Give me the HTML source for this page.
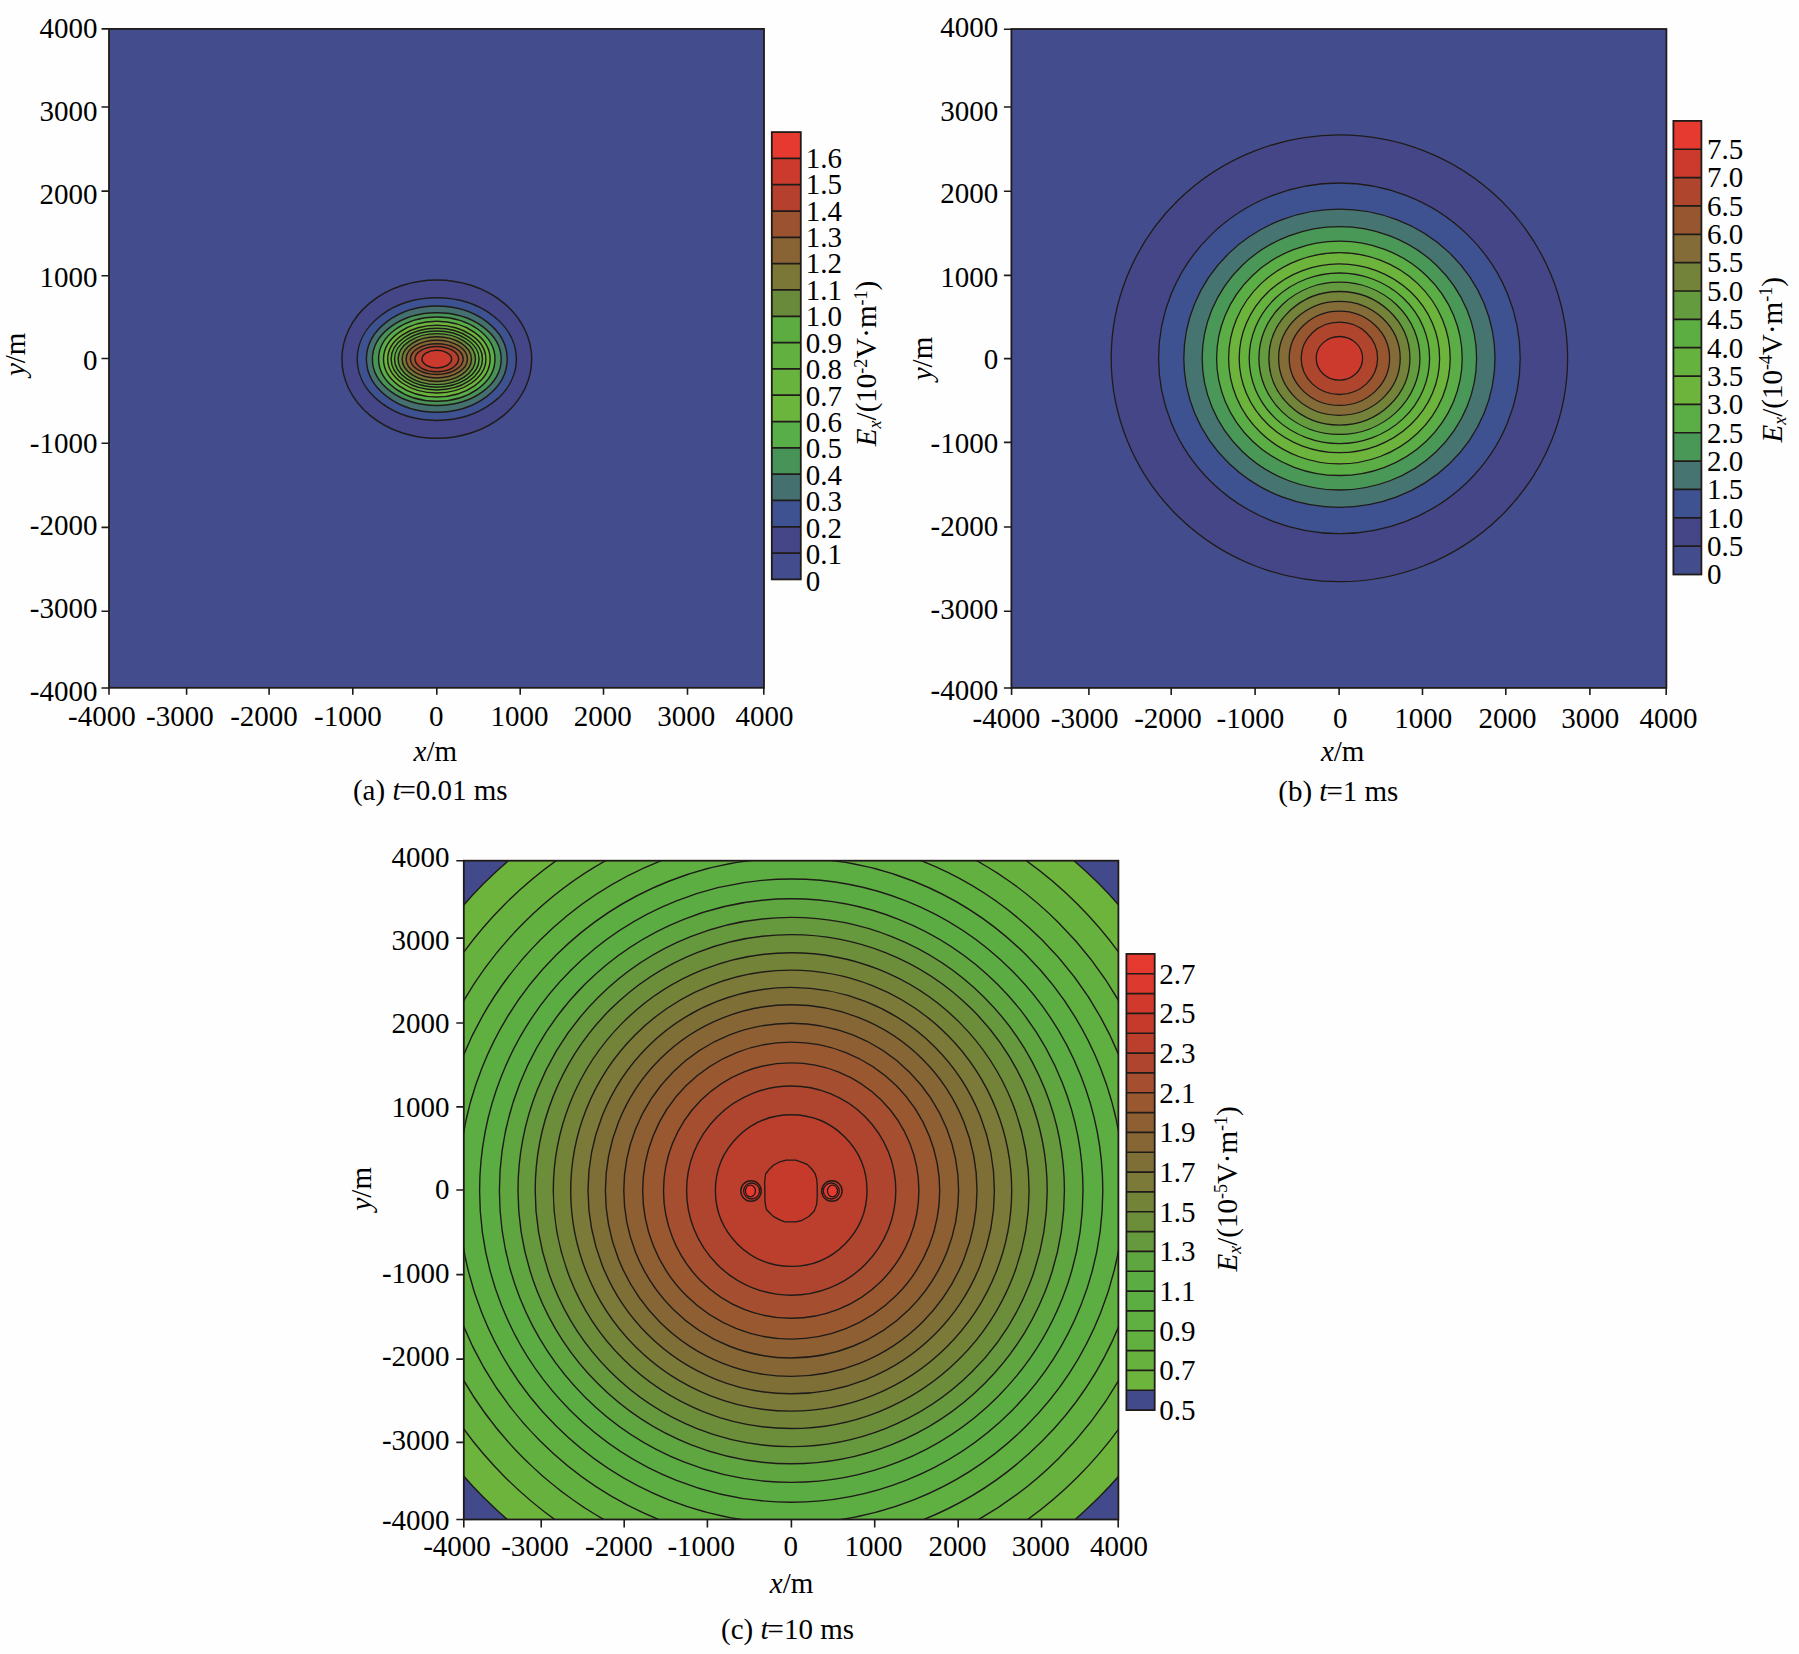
<!DOCTYPE html><html><head><meta charset="utf-8"><title>Ex contour maps</title><style>html,body{margin:0;padding:0;background:#fff;}svg{display:block;}</style></head><body>
<svg width="1799" height="1654" viewBox="0 0 1799 1654">
<rect width="1799" height="1654" fill="#fefefe"/>
<defs>
<clipPath id="clipa"><rect x="109" y="28.9" width="655" height="658.9"/></clipPath>
<clipPath id="clipb"><rect x="1011.4" y="29" width="655" height="658.9"/></clipPath>
<clipPath id="clipc"><rect x="463.8" y="860.7" width="654.6" height="658.8"/></clipPath>
</defs>
<g clip-path="url(#clipa)">
<rect x="109" y="28.9" width="655" height="658.9" fill="#434c8d"/>
<ellipse cx="436.8" cy="359.1" rx="94.9" ry="79.2" fill="#454688" stroke="#1f1b18" stroke-width="1.45"/>
<ellipse cx="436.8" cy="359.1" rx="79.6" ry="61.3" fill="#3e5190" stroke="#1f1b18" stroke-width="1.45"/>
<ellipse cx="436.8" cy="359.1" rx="70.4" ry="53.1" fill="#447070" stroke="#1f1b18" stroke-width="1.45"/>
<ellipse cx="436.8" cy="359.1" rx="64.4" ry="46.4" fill="#489458" stroke="#1f1b18" stroke-width="1.45"/>
<ellipse cx="436.8" cy="359.1" rx="58.2" ry="42.2" fill="#58ae48" stroke="#1f1b18" stroke-width="1.45"/>
<ellipse cx="436.8" cy="359.1" rx="53.3" ry="37.9" fill="#6cb53c" stroke="#1f1b18" stroke-width="1.45"/>
<ellipse cx="436.8" cy="359.1" rx="49.1" ry="33.8" fill="#68b33d" stroke="#1f1b18" stroke-width="1.45"/>
<ellipse cx="436.8" cy="359.1" rx="45.7" ry="30.8" fill="#62b040" stroke="#1f1b18" stroke-width="1.45"/>
<ellipse cx="436.8" cy="359.1" rx="42.3" ry="28.1" fill="#5cac42" stroke="#1f1b18" stroke-width="1.45"/>
<ellipse cx="436.8" cy="359.1" rx="38.7" ry="25.5" fill="#6a8a3b" stroke="#1f1b18" stroke-width="1.45"/>
<ellipse cx="436.8" cy="359.1" rx="34.7" ry="22.3" fill="#7a7737" stroke="#1f1b18" stroke-width="1.45"/>
<ellipse cx="436.8" cy="359.1" rx="30.7" ry="18.9" fill="#886334" stroke="#1f1b18" stroke-width="1.45"/>
<ellipse cx="436.8" cy="359.1" rx="26.4" ry="15.4" fill="#9a5230" stroke="#1f1b18" stroke-width="1.45"/>
<ellipse cx="436.8" cy="359.1" rx="21.8" ry="12.6" fill="#b4402d" stroke="#1f1b18" stroke-width="1.45"/>
<ellipse cx="436.8" cy="359.1" rx="14.8" ry="8.8" fill="#cc3a2d" stroke="#1f1b18" stroke-width="1.45"/>
</g>
<g clip-path="url(#clipb)">
<rect x="1011.4" y="29" width="655" height="658.9" fill="#434d8d"/>
<ellipse cx="1339.4" cy="358.3" rx="228.2" ry="223.4" fill="#454688" stroke="#1f1b18" stroke-width="1.3"/>
<ellipse cx="1339.4" cy="358.3" rx="180.8" ry="175.3" fill="#3e5190" stroke="#1f1b18" stroke-width="1.3"/>
<ellipse cx="1339.4" cy="358.3" rx="155.6" ry="149.1" fill="#467470" stroke="#1f1b18" stroke-width="1.3"/>
<ellipse cx="1339.4" cy="358.3" rx="137.2" ry="131.7" fill="#4a9858" stroke="#1f1b18" stroke-width="1.3"/>
<ellipse cx="1339.4" cy="358.3" rx="122.8" ry="117.2" fill="#5bae45" stroke="#1f1b18" stroke-width="1.3"/>
<ellipse cx="1339.4" cy="358.3" rx="110.8" ry="105.6" fill="#6cb43c" stroke="#1f1b18" stroke-width="1.3"/>
<ellipse cx="1339.4" cy="358.3" rx="100.2" ry="94.4" fill="#66b23e" stroke="#1f1b18" stroke-width="1.3"/>
<ellipse cx="1339.4" cy="358.3" rx="90.2" ry="85.3" fill="#5cae42" stroke="#1f1b18" stroke-width="1.3"/>
<ellipse cx="1339.4" cy="358.3" rx="80.5" ry="76.1" fill="#659b3f" stroke="#1f1b18" stroke-width="1.3"/>
<ellipse cx="1339.4" cy="358.3" rx="70.5" ry="66.8" fill="#738339" stroke="#1f1b18" stroke-width="1.3"/>
<ellipse cx="1339.4" cy="358.3" rx="60.8" ry="57" fill="#836c37" stroke="#1f1b18" stroke-width="1.3"/>
<ellipse cx="1339.4" cy="358.3" rx="50.2" ry="47.1" fill="#97562f" stroke="#1f1b18" stroke-width="1.3"/>
<ellipse cx="1339.4" cy="358.3" rx="38.2" ry="36.2" fill="#b0452e" stroke="#1f1b18" stroke-width="1.3"/>
<ellipse cx="1339.4" cy="358.3" rx="23.2" ry="21.8" fill="#cc3a2d" stroke="#1f1b18" stroke-width="1.3"/>
</g>
<g clip-path="url(#clipc)">
<rect x="463.8" y="860.7" width="654.6" height="658.8" fill="#434a8c"/>
<circle cx="791.2" cy="1190.6" r="434.5" fill="#6cb43c" stroke="#1f1b18" stroke-width="1.4"/>
<circle cx="791.2" cy="1190.6" r="405" fill="#67b23e" stroke="#1f1b18" stroke-width="1.4"/>
<circle cx="791.2" cy="1190.6" r="378.5" fill="#62b040" stroke="#1f1b18" stroke-width="1.4"/>
<circle cx="791.2" cy="1190.6" r="354.6" fill="#5faf41" stroke="#1f1b18" stroke-width="1.4"/>
<circle cx="791.2" cy="1190.6" r="332.7" fill="#5dae42" stroke="#1f1b18" stroke-width="1.4"/>
<circle cx="791.2" cy="1190.6" r="311.6" fill="#5bad43" stroke="#1f1b18" stroke-width="1.4"/>
<circle cx="791.2" cy="1190.6" r="291.8" fill="#5fa540" stroke="#1f1b18" stroke-width="1.4"/>
<circle cx="791.2" cy="1190.6" r="273.2" fill="#66993d" stroke="#1f1b18" stroke-width="1.4"/>
<circle cx="791.2" cy="1190.6" r="256" fill="#6c8e3b" stroke="#1f1b18" stroke-width="1.4"/>
<circle cx="791.2" cy="1190.6" r="237.9" fill="#738439" stroke="#1f1b18" stroke-width="1.4"/>
<circle cx="791.2" cy="1190.6" r="220.5" fill="#7b7a38" stroke="#1f1b18" stroke-width="1.4"/>
<circle cx="791.2" cy="1190.6" r="203.2" fill="#7e6f36" stroke="#1f1b18" stroke-width="1.4"/>
<circle cx="791.2" cy="1190.6" r="185.8" fill="#866634" stroke="#1f1b18" stroke-width="1.4"/>
<circle cx="791.2" cy="1190.6" r="167.4" fill="#8e5f32" stroke="#1f1b18" stroke-width="1.4"/>
<circle cx="791.2" cy="1190.6" r="148.5" fill="#9a5830" stroke="#1f1b18" stroke-width="1.4"/>
<circle cx="791.2" cy="1190.6" r="127.7" fill="#a54e30" stroke="#1f1b18" stroke-width="1.4"/>
<circle cx="791.2" cy="1190.6" r="104.6" fill="#af452e" stroke="#1f1b18" stroke-width="1.4"/>
<circle cx="791.2" cy="1190.6" r="75.8" fill="#bc3e2d" stroke="#1f1b18" stroke-width="1.4"/>
<path d="M786.1 1160.2 L795.7 1160.2 L801.5 1162.1 L807.2 1164.4 L811.3 1168.5 L815.0 1173.3 L816.6 1178.8 L817.2 1185 L817.2 1198 L816.6 1204.6 L814.3 1211.0 L808.8 1216.5 L802.1 1220.3 L795.7 1221.9 L784.9 1221.9 L779.8 1219.9 L773.6 1216.6 L769.8 1213.0 L766.3 1209.2 L765.0 1202.0 L764.7 1182 L765.6 1174.0 L769.3 1169.2 L773.4 1165.3 L779.8 1161.8Z" fill="#c63a2c" stroke="#1f1b18" stroke-width="1.3" stroke-linejoin="round"/>
<circle cx="751.0" cy="1191" r="10.2" fill="#d1392c" stroke="#1f1b18" stroke-width="1.4"/>
<circle cx="751.6" cy="1191" r="8.0" fill="#de392e" stroke="#1f1b18" stroke-width="1.3"/>
<ellipse cx="750.4" cy="1191" rx="5.0" ry="5.8" fill="#e63a30" stroke="#1f1b18" stroke-width="1.3"/>
<circle cx="831.9" cy="1191" r="10.2" fill="#d1392c" stroke="#1f1b18" stroke-width="1.4"/>
<circle cx="831.3" cy="1191" r="8.0" fill="#de392e" stroke="#1f1b18" stroke-width="1.3"/>
<ellipse cx="832.5" cy="1191" rx="5.0" ry="5.8" fill="#e63a30" stroke="#1f1b18" stroke-width="1.3"/>
</g>
<rect x="109" y="28.9" width="655" height="658.9" fill="none" stroke="#1f1b18" stroke-width="1.8"/>
<path d="M109 687.8V694.8M186.6 687.8V694.8M269.1 687.8V694.8M352.8 687.8V694.8M436.8 687.8V694.8M520.2 687.8V694.8M603.5 687.8V694.8M687.5 687.8V694.8M763.8 687.8V694.8M101.5 28.9H109M101.5 107H109M101.5 191.1H109M101.5 275.7H109M101.5 358.5H109M101.5 443.3H109M101.5 527.4H109M101.5 611.3H109M101.5 688H109" stroke="#1f1b18" stroke-width="1.6" fill="none"/>
<g font-family="'Liberation Serif', serif" font-size="29" fill="#000">
<text x="135.7" y="726.4" text-anchor="end">-4000</text>
<text x="213.7" y="726.4" text-anchor="end">-3000</text>
<text x="297.8" y="726.4" text-anchor="end">-2000</text>
<text x="381.7" y="726.4" text-anchor="end">-1000</text>
<text x="443.55" y="726.4" text-anchor="end">0</text>
<text x="548.4" y="726.4" text-anchor="end">1000</text>
<text x="631.8" y="726.4" text-anchor="end">2000</text>
<text x="715.2" y="726.4" text-anchor="end">3000</text>
<text x="793.6" y="726.4" text-anchor="end">4000</text>
<text x="97.5" y="38.4" text-anchor="end">4000</text>
<text x="97.5" y="120.9" text-anchor="end">3000</text>
<text x="97.5" y="203.7" text-anchor="end">2000</text>
<text x="97.5" y="286.6" text-anchor="end">1000</text>
<text x="97.5" y="369.55" text-anchor="end">0</text>
<text x="97.5" y="452.5" text-anchor="end">-1000</text>
<text x="97.5" y="535.1" text-anchor="end">-2000</text>
<text x="97.5" y="618.3" text-anchor="end">-3000</text>
<text x="97.5" y="700.8" text-anchor="end">-4000</text>
<text transform="translate(14.65,354.35) rotate(-90)" text-anchor="middle" dy="10"><tspan font-style="italic">y</tspan>/m</text>
<text x="435.3" y="761" text-anchor="middle"><tspan font-style="italic">x</tspan>/m</text>
<text x="430.3" y="799.6" text-anchor="middle">(a) <tspan font-style="italic">t</tspan><tspan dx="-1">=</tspan>0.01 ms</text>
</g>
<rect x="1011.4" y="29" width="655" height="658.9" fill="none" stroke="#1f1b18" stroke-width="1.8"/>
<path d="M1011.6 687.9V694.9M1088.9 687.9V694.9M1171.2 687.9V694.9M1255.1 687.9V694.9M1339.1 687.9V694.9M1422.5 687.9V694.9M1505.8 687.9V694.9M1589.9 687.9V694.9M1666.2 687.9V694.9M1003.9 29.2H1011.4M1003.9 107H1011.4M1003.9 191.3H1011.4M1003.9 275.4H1011.4M1003.9 358.6H1011.4M1003.9 442.4H1011.4M1003.9 527H1011.4M1003.9 611.3H1011.4M1003.9 688H1011.4" stroke="#1f1b18" stroke-width="1.6" fill="none"/>
<g font-family="'Liberation Serif', serif" font-size="29" fill="#000">
<text x="1040.2" y="727.5" text-anchor="end">-4000</text>
<text x="1118.4" y="727.5" text-anchor="end">-3000</text>
<text x="1201.8" y="727.5" text-anchor="end">-2000</text>
<text x="1284.2" y="727.5" text-anchor="end">-1000</text>
<text x="1347.45" y="727.5" text-anchor="end">0</text>
<text x="1452.2" y="727.5" text-anchor="end">1000</text>
<text x="1536.5" y="727.5" text-anchor="end">2000</text>
<text x="1619.2" y="727.5" text-anchor="end">3000</text>
<text x="1697.6" y="727.5" text-anchor="end">4000</text>
<text x="998.2" y="37.1" text-anchor="end">4000</text>
<text x="998.2" y="120.5" text-anchor="end">3000</text>
<text x="998.2" y="203.3" text-anchor="end">2000</text>
<text x="998.2" y="286.6" text-anchor="end">1000</text>
<text x="998.2" y="369.2" text-anchor="end">0</text>
<text x="998.2" y="452.7" text-anchor="end">-1000</text>
<text x="998.2" y="535.5" text-anchor="end">-2000</text>
<text x="998.2" y="619.3" text-anchor="end">-3000</text>
<text x="998.2" y="699.8" text-anchor="end">-4000</text>
<text transform="translate(921.65,358.55) rotate(-90)" text-anchor="middle" dy="10"><tspan font-style="italic">y</tspan>/m</text>
<text x="1342.7" y="761" text-anchor="middle"><tspan font-style="italic">x</tspan>/m</text>
<text x="1338.3" y="801.2" text-anchor="middle">(b) <tspan font-style="italic">t</tspan><tspan dx="-1">=</tspan>1 ms</text>
</g>
<rect x="463.8" y="860.7" width="654.6" height="658.8" fill="none" stroke="#1f1b18" stroke-width="1.8"/>
<path d="M463.8 1519.5V1527.5M541.2 1519.5V1527.5M624.2 1519.5V1527.5M707.4 1519.5V1527.5M791.4 1519.5V1527.5M874.7 1519.5V1527.5M958.2 1519.5V1527.5M1041.6 1519.5V1527.5M1118.2 1519.5V1527.5M456.3 860.7H463.8M456.3 938.1H463.8M456.3 1023H463.8M456.3 1106.9H463.8M456.3 1190H463.8M456.3 1274.6H463.8M456.3 1359.1H463.8M456.3 1442.4H463.8M456.3 1519.5H463.8" stroke="#1f1b18" stroke-width="1.6" fill="none"/>
<g font-family="'Liberation Serif', serif" font-size="29" fill="#000">
<text x="490.8" y="1555.6" text-anchor="end">-4000</text>
<text x="568.8" y="1555.6" text-anchor="end">-3000</text>
<text x="652.7" y="1555.6" text-anchor="end">-2000</text>
<text x="735.1" y="1555.6" text-anchor="end">-1000</text>
<text x="797.95" y="1555.6" text-anchor="end">0</text>
<text x="902.6" y="1555.6" text-anchor="end">1000</text>
<text x="986.5" y="1555.6" text-anchor="end">2000</text>
<text x="1069.8" y="1555.6" text-anchor="end">3000</text>
<text x="1148" y="1555.6" text-anchor="end">4000</text>
<text x="449.6" y="867.1" text-anchor="end">4000</text>
<text x="449.6" y="950.2" text-anchor="end">3000</text>
<text x="449.6" y="1033.3" text-anchor="end">2000</text>
<text x="449.6" y="1116.6" text-anchor="end">1000</text>
<text x="449.6" y="1199.3" text-anchor="end">0</text>
<text x="449.6" y="1282.7" text-anchor="end">-1000</text>
<text x="449.6" y="1366" text-anchor="end">-2000</text>
<text x="449.6" y="1449.9" text-anchor="end">-3000</text>
<text x="449.6" y="1529.6" text-anchor="end">-4000</text>
<text transform="translate(360.75,1188.75) rotate(-90)" text-anchor="middle" dy="10"><tspan font-style="italic">y</tspan>/m</text>
<text x="791.6" y="1592.8" text-anchor="middle"><tspan font-style="italic">x</tspan>/m</text>
<text x="787.5" y="1638.5" text-anchor="middle">(c) <tspan font-style="italic">t</tspan><tspan dx="-1">=</tspan>10 ms</text>
</g>
<rect x="771.8" y="132.1" width="29" height="26.61" fill="#e63a30"/>
<rect x="771.8" y="158.41" width="29" height="26.61" fill="#cc3a2d"/>
<rect x="771.8" y="184.72" width="29" height="26.61" fill="#b4402d"/>
<rect x="771.8" y="211.04" width="29" height="26.61" fill="#9a5230"/>
<rect x="771.8" y="237.35" width="29" height="26.61" fill="#886334"/>
<rect x="771.8" y="263.66" width="29" height="26.61" fill="#7a7737"/>
<rect x="771.8" y="289.97" width="29" height="26.61" fill="#6a8a3b"/>
<rect x="771.8" y="316.28" width="29" height="26.61" fill="#5cac42"/>
<rect x="771.8" y="342.59" width="29" height="26.61" fill="#62b040"/>
<rect x="771.8" y="368.91" width="29" height="26.61" fill="#68b33d"/>
<rect x="771.8" y="395.22" width="29" height="26.61" fill="#6cb53c"/>
<rect x="771.8" y="421.53" width="29" height="26.61" fill="#58ae48"/>
<rect x="771.8" y="447.84" width="29" height="26.61" fill="#489458"/>
<rect x="771.8" y="474.15" width="29" height="26.61" fill="#447070"/>
<rect x="771.8" y="500.46" width="29" height="26.61" fill="#3e5190"/>
<rect x="771.8" y="526.78" width="29" height="26.61" fill="#454688"/>
<rect x="771.8" y="553.09" width="29" height="26.61" fill="#434c8d"/>
<path d="M771.8 158.41H800.8M771.8 184.72H800.8M771.8 211.04H800.8M771.8 237.35H800.8M771.8 263.66H800.8M771.8 289.97H800.8M771.8 316.28H800.8M771.8 342.59H800.8M771.8 368.91H800.8M771.8 395.22H800.8M771.8 421.53H800.8M771.8 447.84H800.8M771.8 474.15H800.8M771.8 500.46H800.8M771.8 526.78H800.8M771.8 553.09H800.8" stroke="#1f1b18" stroke-width="1.7" fill="none"/>
<rect x="771.8" y="132.1" width="29" height="447.3" fill="none" stroke="#1f1b18" stroke-width="1.8"/>
<g font-family="'Liberation Serif', serif" font-size="29" fill="#000">
<text x="805.8" y="167.75">1.6</text>
<text x="805.8" y="194.18">1.5</text>
<text x="805.8" y="220.61">1.4</text>
<text x="805.8" y="247.04">1.3</text>
<text x="805.8" y="273.47">1.2</text>
<text x="805.8" y="299.9">1.1</text>
<text x="805.8" y="326.33">1.0</text>
<text x="805.8" y="352.76">0.9</text>
<text x="805.8" y="379.19">0.8</text>
<text x="805.8" y="405.62">0.7</text>
<text x="805.8" y="432.05">0.6</text>
<text x="805.8" y="458.48">0.5</text>
<text x="805.8" y="484.91">0.4</text>
<text x="805.8" y="511.34">0.3</text>
<text x="805.8" y="537.77">0.2</text>
<text x="805.8" y="564.2">0.1</text>
<text x="805.8" y="590.63">0</text>
<text transform="translate(876.2,363.5) rotate(-90)" text-anchor="middle"><tspan font-style="italic">E</tspan><tspan font-style="italic" font-size="18" dy="4.5">x</tspan><tspan dy="-4.5">/(10</tspan><tspan font-size="18" dy="-9.5">-2</tspan><tspan dy="9.5">V·m</tspan><tspan font-size="18" dy="-9.5">-1</tspan><tspan dy="9.5">)</tspan></text>
</g>
<rect x="1673.4" y="120.9" width="28" height="28.65" fill="#e63a30"/>
<rect x="1673.4" y="149.25" width="28" height="28.65" fill="#cc3a2d"/>
<rect x="1673.4" y="177.6" width="28" height="28.65" fill="#b0452e"/>
<rect x="1673.4" y="205.95" width="28" height="28.65" fill="#97562f"/>
<rect x="1673.4" y="234.3" width="28" height="28.65" fill="#836c37"/>
<rect x="1673.4" y="262.65" width="28" height="28.65" fill="#738339"/>
<rect x="1673.4" y="291" width="28" height="28.65" fill="#659b3f"/>
<rect x="1673.4" y="319.35" width="28" height="28.65" fill="#5cae42"/>
<rect x="1673.4" y="347.7" width="28" height="28.65" fill="#66b23e"/>
<rect x="1673.4" y="376.05" width="28" height="28.65" fill="#6cb43c"/>
<rect x="1673.4" y="404.4" width="28" height="28.65" fill="#5bae45"/>
<rect x="1673.4" y="432.75" width="28" height="28.65" fill="#4a9858"/>
<rect x="1673.4" y="461.1" width="28" height="28.65" fill="#467470"/>
<rect x="1673.4" y="489.45" width="28" height="28.65" fill="#3e5190"/>
<rect x="1673.4" y="517.8" width="28" height="28.65" fill="#454688"/>
<rect x="1673.4" y="546.15" width="28" height="28.65" fill="#434d8d"/>
<path d="M1673.4 149.25H1701.4M1673.4 177.6H1701.4M1673.4 205.95H1701.4M1673.4 234.3H1701.4M1673.4 262.65H1701.4M1673.4 291H1701.4M1673.4 319.35H1701.4M1673.4 347.7H1701.4M1673.4 376.05H1701.4M1673.4 404.4H1701.4M1673.4 432.75H1701.4M1673.4 461.1H1701.4M1673.4 489.45H1701.4M1673.4 517.8H1701.4M1673.4 546.15H1701.4" stroke="#1f1b18" stroke-width="1.7" fill="none"/>
<rect x="1673.4" y="120.9" width="28" height="453.6" fill="none" stroke="#1f1b18" stroke-width="1.8"/>
<g font-family="'Liberation Serif', serif" font-size="29" fill="#000">
<text x="1707" y="159.05">7.5</text>
<text x="1707" y="187.4">7.0</text>
<text x="1707" y="215.75">6.5</text>
<text x="1707" y="244.1">6.0</text>
<text x="1707" y="272.45">5.5</text>
<text x="1707" y="300.8">5.0</text>
<text x="1707" y="329.15">4.5</text>
<text x="1707" y="357.5">4.0</text>
<text x="1707" y="385.85">3.5</text>
<text x="1707" y="414.2">3.0</text>
<text x="1707" y="442.55">2.5</text>
<text x="1707" y="470.9">2.0</text>
<text x="1707" y="499.25">1.5</text>
<text x="1707" y="527.6">1.0</text>
<text x="1707" y="555.95">0.5</text>
<text x="1707" y="584.3">0</text>
<text transform="translate(1781.7,359.8) rotate(-90)" text-anchor="middle"><tspan font-style="italic">E</tspan><tspan font-style="italic" font-size="18" dy="4.5">x</tspan><tspan dy="-4.5">/(10</tspan><tspan font-size="18" dy="-9.5">-4</tspan><tspan dy="9.5">V·m</tspan><tspan font-size="18" dy="-9.5">-1</tspan><tspan dy="9.5">)</tspan></text>
</g>
<rect x="1126.4" y="953.9" width="28.3" height="20.13" fill="#e63a30"/>
<rect x="1126.4" y="973.73" width="28.3" height="20.13" fill="#de392e"/>
<rect x="1126.4" y="993.57" width="28.3" height="20.13" fill="#d1392c"/>
<rect x="1126.4" y="1013.4" width="28.3" height="20.13" fill="#c63a2c"/>
<rect x="1126.4" y="1033.24" width="28.3" height="20.13" fill="#bc3e2d"/>
<rect x="1126.4" y="1053.07" width="28.3" height="20.13" fill="#af452e"/>
<rect x="1126.4" y="1072.91" width="28.3" height="20.13" fill="#a54e30"/>
<rect x="1126.4" y="1092.74" width="28.3" height="20.13" fill="#9a5830"/>
<rect x="1126.4" y="1112.58" width="28.3" height="20.13" fill="#8e5f32"/>
<rect x="1126.4" y="1132.41" width="28.3" height="20.13" fill="#866634"/>
<rect x="1126.4" y="1152.25" width="28.3" height="20.13" fill="#7e6f36"/>
<rect x="1126.4" y="1172.08" width="28.3" height="20.13" fill="#7b7a38"/>
<rect x="1126.4" y="1191.92" width="28.3" height="20.13" fill="#738439"/>
<rect x="1126.4" y="1211.75" width="28.3" height="20.13" fill="#6c8e3b"/>
<rect x="1126.4" y="1231.59" width="28.3" height="20.13" fill="#66993d"/>
<rect x="1126.4" y="1251.42" width="28.3" height="20.13" fill="#5fa540"/>
<rect x="1126.4" y="1271.26" width="28.3" height="20.13" fill="#5bad43"/>
<rect x="1126.4" y="1291.09" width="28.3" height="20.13" fill="#5dae42"/>
<rect x="1126.4" y="1310.93" width="28.3" height="20.13" fill="#5faf41"/>
<rect x="1126.4" y="1330.76" width="28.3" height="20.13" fill="#62b040"/>
<rect x="1126.4" y="1350.6" width="28.3" height="20.13" fill="#67b23e"/>
<rect x="1126.4" y="1370.43" width="28.3" height="20.13" fill="#6cb43c"/>
<rect x="1126.4" y="1390.27" width="28.3" height="20.13" fill="#434a8c"/>
<path d="M1126.4 973.73H1154.7M1126.4 993.57H1154.7M1126.4 1013.4H1154.7M1126.4 1033.24H1154.7M1126.4 1053.07H1154.7M1126.4 1072.91H1154.7M1126.4 1092.74H1154.7M1126.4 1112.58H1154.7M1126.4 1132.41H1154.7M1126.4 1152.25H1154.7M1126.4 1172.08H1154.7M1126.4 1191.92H1154.7M1126.4 1211.75H1154.7M1126.4 1231.59H1154.7M1126.4 1251.42H1154.7M1126.4 1271.26H1154.7M1126.4 1291.09H1154.7M1126.4 1310.93H1154.7M1126.4 1330.76H1154.7M1126.4 1350.6H1154.7M1126.4 1370.43H1154.7M1126.4 1390.27H1154.7" stroke="#1f1b18" stroke-width="1.7" fill="none"/>
<rect x="1126.4" y="953.9" width="28.3" height="456.2" fill="none" stroke="#1f1b18" stroke-width="1.8"/>
<g font-family="'Liberation Serif', serif" font-size="29" fill="#000">
<text x="1159.2" y="983.53">2.7</text>
<text x="1159.2" y="1023.2">2.5</text>
<text x="1159.2" y="1062.87">2.3</text>
<text x="1159.2" y="1102.54">2.1</text>
<text x="1159.2" y="1142.21">1.9</text>
<text x="1159.2" y="1181.88">1.7</text>
<text x="1159.2" y="1221.55">1.5</text>
<text x="1159.2" y="1261.22">1.3</text>
<text x="1159.2" y="1300.89">1.1</text>
<text x="1159.2" y="1340.56">0.9</text>
<text x="1159.2" y="1380.23">0.7</text>
<text x="1159.2" y="1419.9">0.5</text>
<text transform="translate(1236.8,1188.9) rotate(-90)" text-anchor="middle"><tspan font-style="italic">E</tspan><tspan font-style="italic" font-size="18" dy="4.5">x</tspan><tspan dy="-4.5">/(10</tspan><tspan font-size="18" dy="-9.5">-5</tspan><tspan dy="9.5">V·m</tspan><tspan font-size="18" dy="-9.5">-1</tspan><tspan dy="9.5">)</tspan></text>
</g>
</svg></body></html>
